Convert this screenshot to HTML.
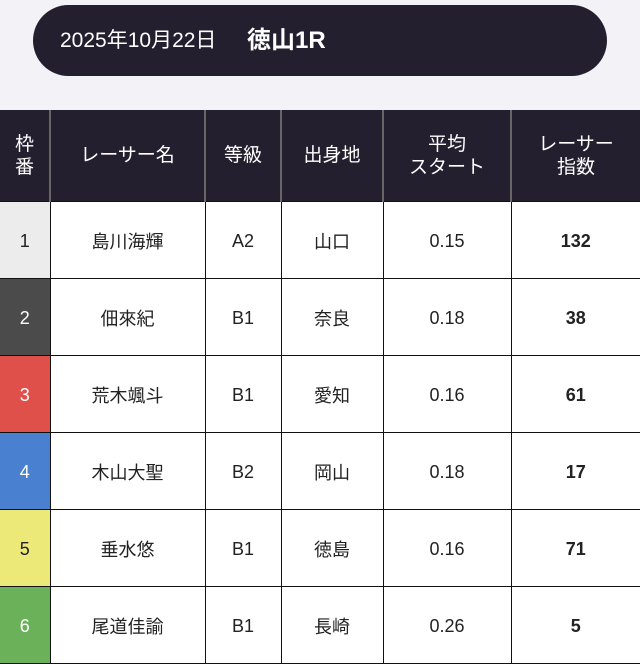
<!DOCTYPE html>
<html><head><meta charset="utf-8"><style>
body{margin:0;width:640px;height:664px;background:#f3f3f7;font-family:"Liberation Sans","Noto Sans CJK JP",sans-serif;position:relative;overflow:hidden}
.pill{position:absolute;left:33px;top:5px;width:574px;height:71px;background:#231f2e;border-radius:36px;color:#fff;font-size:21px;line-height:71px}
.pill span{position:absolute;left:27px}
.pill b{position:absolute;left:214px;font-size:24px}
table{position:absolute;left:0;top:110px;border-collapse:collapse;width:640px;table-layout:fixed}
th{background:#231f2e;color:#fff;font-weight:normal;font-size:19px;line-height:23px;height:91px;border-left:2px solid #666;padding:0}
th:first-child{border-left:none}
td{background:#fff;height:75.5px;border:1.5px solid #111;text-align:center;font-size:18px;color:#222;padding:0;padding-top:2px;box-sizing:border-box}
tr+tr td{height:77px}
td:first-child{border-left:none}
td:last-child{border-right:none;font-weight:bold}
</style></head><body>
<div class="pill"><span>2025年10月22日</span><b>徳山1R</b></div>
<table>
<colgroup><col style="width:50px"><col style="width:155px"><col style="width:76px"><col style="width:102px"><col style="width:128px"><col style="width:129px"></colgroup>
<tr><th>枠<br>番</th><th>レーサー名</th><th>等級</th><th>出身地</th><th>平均<br>スタート</th><th>レーサー<br>指数</th></tr>
<tr><td style="background:#ececec">1</td><td>島川海輝</td><td>A2</td><td>山口</td><td>0.15</td><td>132</td></tr>
<tr><td style="background:#4b4b4b;color:#fff">2</td><td>佃來紀</td><td>B1</td><td>奈良</td><td>0.18</td><td>38</td></tr>
<tr><td style="background:#e0504a;color:#fff">3</td><td>荒木颯斗</td><td>B1</td><td>愛知</td><td>0.16</td><td>61</td></tr>
<tr><td style="background:#4a80d0;color:#fff">4</td><td>木山大聖</td><td>B2</td><td>岡山</td><td>0.18</td><td>17</td></tr>
<tr><td style="background:#ede978">5</td><td>垂水悠</td><td>B1</td><td>徳島</td><td>0.16</td><td>71</td></tr>
<tr><td style="background:#6bb15a;color:#fff">6</td><td>尾道佳諭</td><td>B1</td><td>長崎</td><td>0.26</td><td>5</td></tr>
</table>
</body></html>
